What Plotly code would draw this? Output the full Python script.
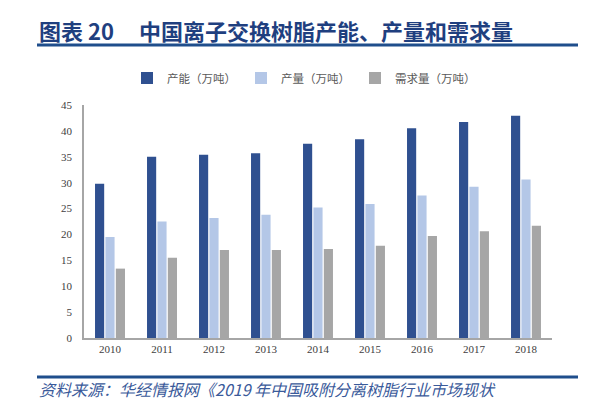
import plotly.graph_objects as go

years = ["2010", "2011", "2012", "2013", "2014", "2015", "2016", "2017", "2018"]
capacity = [29.8, 35.0, 35.4, 35.7, 37.5, 38.4, 40.5, 41.7, 42.9]
output = [19.5, 22.5, 23.2, 23.8, 25.2, 25.9, 27.5, 29.2, 30.6]
demand = [13.4, 15.5, 17.0, 17.0, 17.2, 17.8, 19.7, 20.6, 21.7]

names = ["产能（万吨）", "产量（万吨）", "需求量（万吨）"]
colors = ["#2f5090", "#b4c7e7", "#a6a6a6"]

# the page puts the figure 8px in from the corner, so shift everything back
OFF = 8
W, H = 600, 401
L, R, T, B = 84 - OFF, 48 + OFF, 105 - OFF, 63 + OFF
pw, ph = W - L - R, H - T - B


def px(x):
    return (x - OFF - L) / pw


def py(y):
    return (H - B - (y - OFF)) / ph


fig = go.Figure()
for vals, name, c in zip([capacity, output, demand], names, colors):
    fig.add_trace(go.Bar(x=years, y=vals, name=name, marker_color=c,
                         marker_line_width=0))

fig.update_layout(
    width=W, height=H,
    margin=dict(l=L, r=R, t=T, b=B, autoexpand=False),
    paper_bgcolor="white", plot_bgcolor="white",
    barmode="group", bargap=0.4, bargroupgap=0.12,
    showlegend=True,
    legend=dict(orientation="h", x=px(304), xanchor="center", y=py(78), yanchor="middle",
                font=dict(family="Noto Sans CJK SC", size=11.5, color="#595959"),
                itemwidth=30, tracegroupgap=0),
    font=dict(family="Liberation Serif"),
)
fig.update_xaxes(showline=True, linecolor="#a6a6a6", linewidth=1.5, ticks="",
                 tickfont=dict(family="Liberation Serif", size=11, color="#404040"),
                 showgrid=False)
fig.update_yaxes(range=[0, 45], dtick=5, showline=True, linecolor="#a6a6a6", linewidth=1.5,
                 showgrid=False, zeroline=False, ticks="", ticklabelstandoff=8,
                 tickfont=dict(family="Liberation Serif", size=11, color="#404040"))

# title and rules
fig.add_annotation(text="<b>图表 20 &nbsp;&nbsp;&nbsp;&nbsp;中国离子交换树脂产能、产量和需求量</b>",
                   xref="paper", yref="paper", x=px(37), y=py(30), xanchor="left", yanchor="middle",
                   showarrow=False, font=dict(family="Noto Sans CJK SC", size=22, color="#1f3f7f"))
fig.add_shape(type="line", xref="paper", yref="paper", x0=px(37), x1=px(578), y0=py(45), y1=py(45),
              line=dict(color="#1f4e8c", width=3))
fig.add_shape(type="line", xref="paper", yref="paper", x0=px(37), x1=px(578), y0=py(377), y1=py(377),
              line=dict(color="#1f4e8c", width=3))
fig.add_annotation(text="<i>资料来源：华经情报网《2019 年中国吸附分离树脂行业市场现状</i>",
                   xref="paper", yref="paper", x=px(37), y=py(389), xanchor="left", yanchor="middle",
                   showarrow=False, font=dict(family="Noto Sans CJK SC", size=16, color="#3a5a9a"))

fig.write_html("out.html")
